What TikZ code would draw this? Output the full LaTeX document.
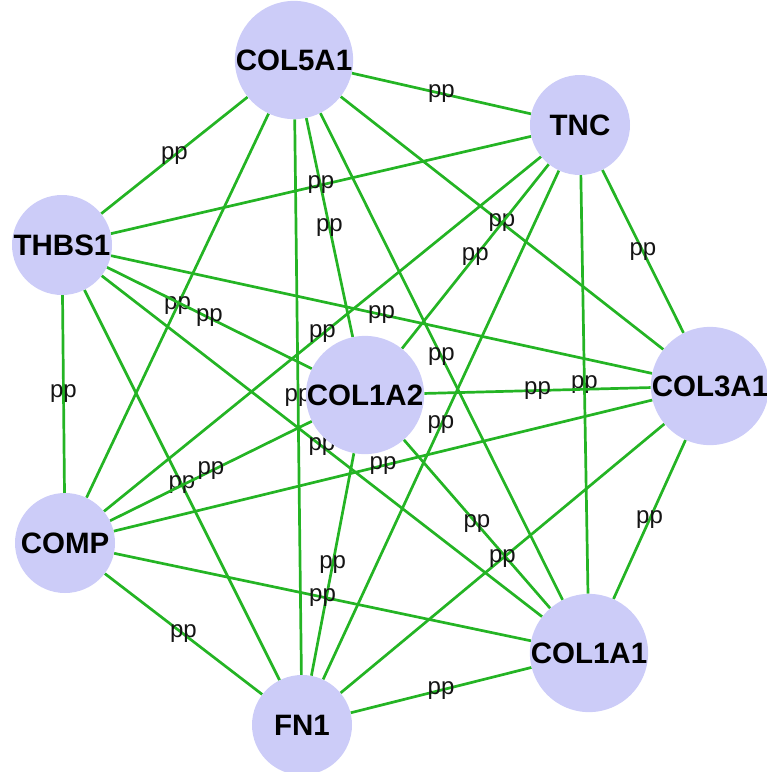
\documentclass[tikz,border=0pt]{standalone}
\usepackage{fontspec}
\setmainfont{Liberation Sans}
\usetikzlibrary{backgrounds}
\definecolor{nodefill}{RGB}{204,204,248}
\definecolor{edgegreen}{RGB}{36,180,36}
\definecolor{txt}{RGB}{20,20,20}
\begin{document}
\begin{tikzpicture}[x=1pt,y=-1pt,
  gene/.style={circle, fill=nodefill, minimum size=100pt, inner sep=0pt,
    font=\fontsize{29.5}{29.5}\selectfont\bfseries, text=black},
  link/.style={draw=edgegreen, line width=2.7pt},
  lbl/.style={font=\fontsize{24}{24}\selectfont, text=txt, inner sep=0pt}]
\useasboundingbox (0,0) rectangle (767,772);
\node[gene] (COL5A1) at (294,60) {COL5A1};
\node[gene] (TNC) at (580,125) {TNC};
\node[gene] (THBS1) at (62,245) {THBS1};
\node[gene] (COL1A2) at (365,395) {COL1A2};
\node[gene] (COL3A1) at (710,386) {COL3A1};
\node[gene] (COMP) at (65,543) {COMP};
\node[gene] (COL1A1) at (589,653) {COL1A1};
\node[gene] (FN1) at (302,725) {FN1};
\begin{scope}[on background layer]
\foreach \a/\b in {COL5A1/TNC, COL5A1/THBS1, COL5A1/COL1A2, COL5A1/COL3A1,
  COL5A1/COMP, COL5A1/COL1A1, COL5A1/FN1,
  TNC/THBS1, TNC/COL1A2, TNC/COL3A1, TNC/COMP, TNC/COL1A1, TNC/FN1,
  THBS1/COL1A2, THBS1/COL3A1, THBS1/COMP, THBS1/COL1A1, THBS1/FN1,
  COL1A2/COL3A1, COL1A2/COMP, COL1A2/COL1A1, COL1A2/FN1,
  COL3A1/COMP, COL3A1/COL1A1, COL3A1/FN1,
  COMP/COL1A1, COMP/FN1,
  COL1A1/FN1}
  \draw[link] (\a) -- node[lbl] {pp} (\b);
\end{scope}
\end{tikzpicture}
\end{document}
